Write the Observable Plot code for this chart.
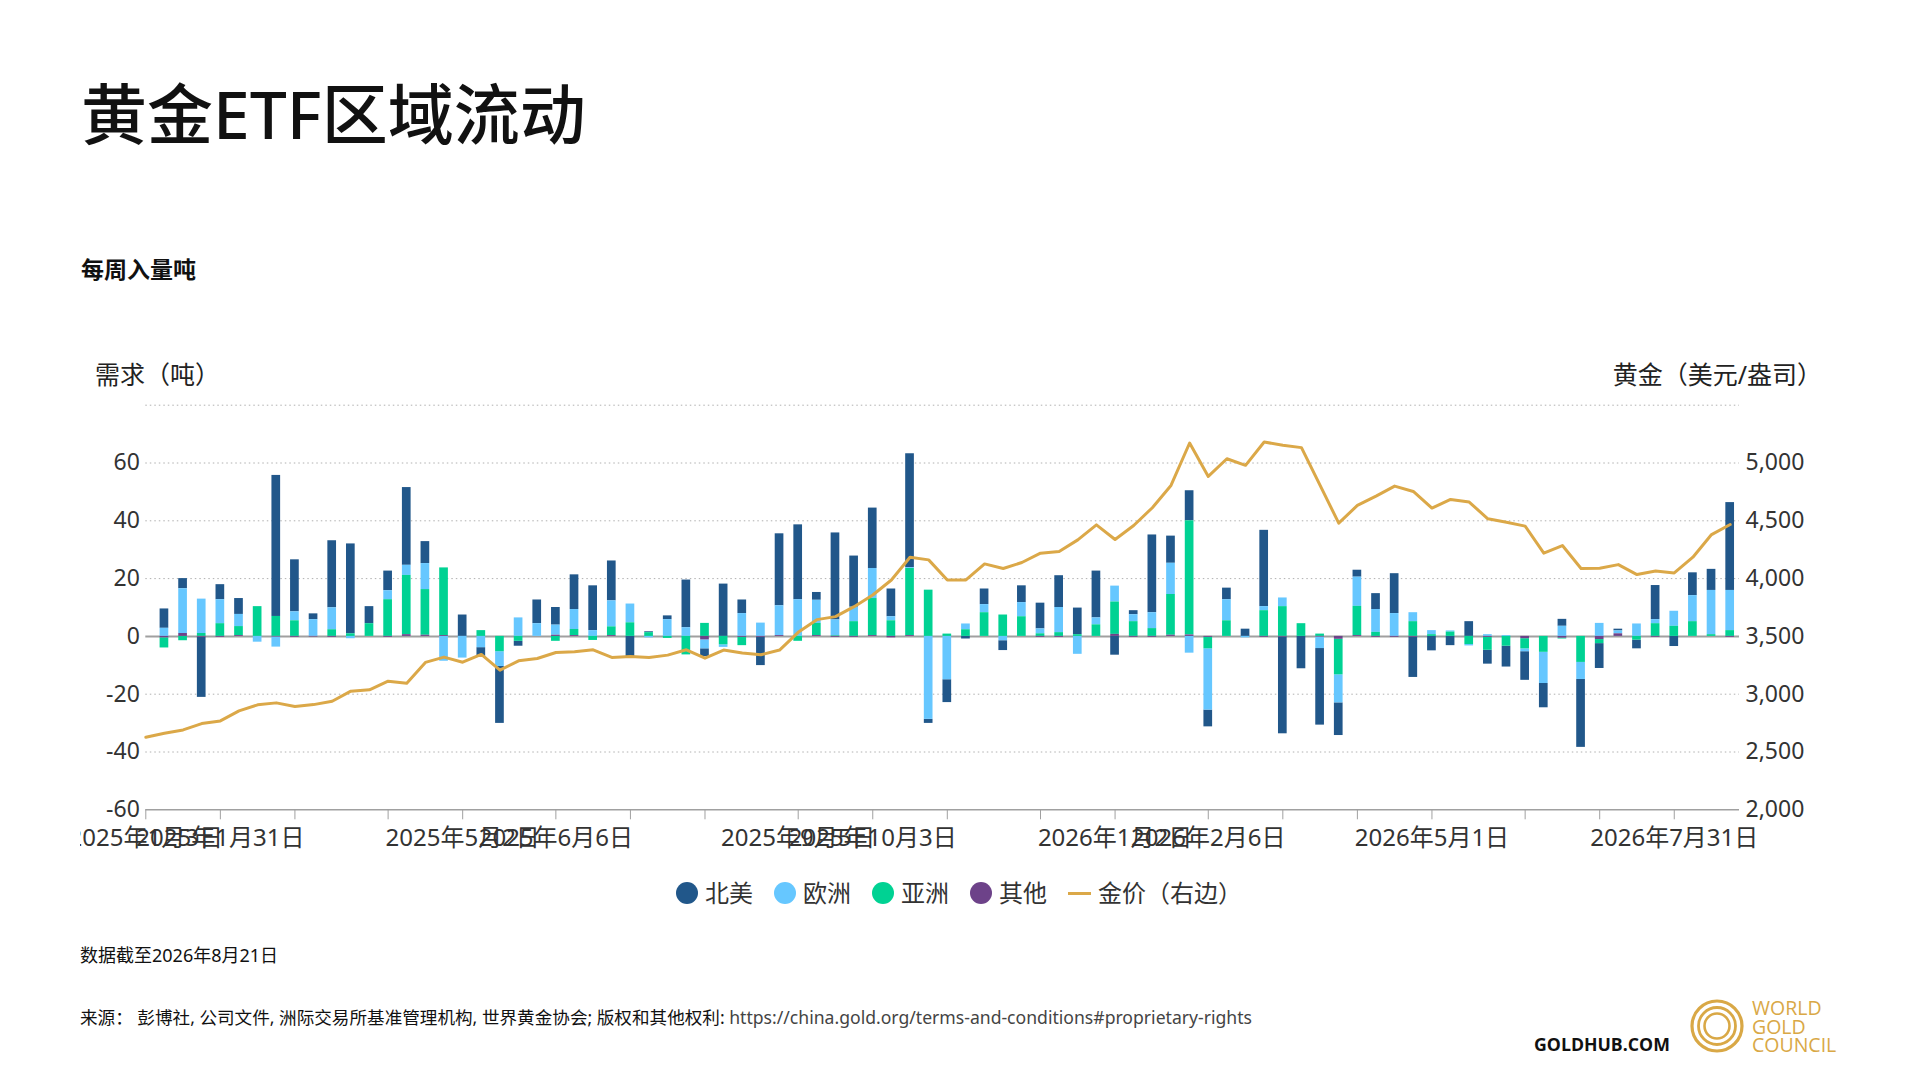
<!DOCTYPE html>
<html>
<head>
<meta charset="utf-8">
<script src="https://cdn.jsdelivr.net/npm/d3@7"></script>
<script src="https://cdn.jsdelivr.net/npm/@observablehq/plot@0.6"></script>
<style>
  body { margin: 0; background: #fff; }
  #page { position: relative; width: 1920px; height: 1080px; overflow: hidden; background: #fff;
          font-family: "Noto Sans", "Noto Sans CJK SC", sans-serif; color: #222; }
  .abs { position: absolute; white-space: nowrap; line-height: 1; }
  #legend { display: flex; align-items: center; font-size: 24px; color: #333; }
  #legend .item { display: flex; align-items: center; margin-right: 21px; }
  #legend .dot { width: 22px; height: 22px; border-radius: 50%; margin-right: 7px; }
  #legend .ln { width: 23px; height: 3px; margin-right: 7px; }
</style>
</head>
<body>
<div id="page">
  <div class="abs" style="left:81px;top:80px;font-size:66px;font-weight:500;color:#111">黄金ETF区域流动</div>
  <div class="abs" style="left:81px;top:258px;font-size:23px;font-weight:700;color:#111">每周入量吨</div>
  <div class="abs" style="left:95px;top:362px;font-size:25px;color:#222">需求（吨）</div>
  <div class="abs" style="right:98px;top:362px;font-size:25px;color:#222">黄金（美元/盎司）</div>
  <div id="chart" class="abs" style="left:80px;top:390px"></div>
  <div id="legend" class="abs" style="left:676px;top:881px;height:24px"></div>
  <div class="abs" style="left:80px;top:946px;font-size:18px;color:#111">数据截至2026年8月21日</div>
  <div class="abs" style="left:80px;top:1009px;font-size:17.6px;color:#111">来源： 彭博社, 公司文件, 洲际交易所基准管理机构, 世界黄金协会; 版权和其他权利: <span style="color:#444">https://china.gold.org/terms-and-conditions#proprietary-rights</span></div>
  <div class="abs" style="left:1534px;top:1036px;font-size:17.7px;font-weight:700;color:#111;font-family:'Open Sans','Noto Sans',sans-serif">GOLDHUB.COM</div>
  <svg class="abs" style="left:1680px;top:990px" width="240" height="80">
    <g fill="none" stroke="#d9a846">
      <circle cx="37" cy="36" r="25" stroke-width="3.2"/>
      <circle cx="37" cy="36" r="18.5" stroke-width="2.8"/>
      <circle cx="37" cy="36" r="12.5" stroke-width="2.6"/>
    </g>
    <g fill="#d9a846" font-family="'Open Sans','Noto Sans',sans-serif" font-size="19.5">
      <text x="72" y="25">WORLD</text>
      <text x="72" y="44">GOLD</text>
      <text x="72" y="62">COUNCIL</text>
    </g>
  </svg>
</div>
<script>
// weekly dates (Friday), Jan 2025 - Aug 2026
const weeks = [
  "2025-01-03","2025-01-10","2025-01-17","2025-01-24","2025-01-31","2025-02-07","2025-02-14","2025-02-21","2025-02-28",
  "2025-03-07","2025-03-14","2025-03-21","2025-03-28","2025-04-04","2025-04-11","2025-04-18","2025-04-25","2025-05-02",
  "2025-05-09","2025-05-16","2025-05-23","2025-05-30","2025-06-06","2025-06-13","2025-06-20","2025-06-27","2025-07-04",
  "2025-07-11","2025-07-18","2025-07-25","2025-08-01","2025-08-08","2025-08-15","2025-08-22","2025-08-29","2025-09-05",
  "2025-09-12","2025-09-19","2025-09-26","2025-10-03","2025-10-10","2025-10-17","2025-10-24","2025-10-31","2025-11-07",
  "2025-11-14","2025-11-21","2025-11-28","2025-12-05","2025-12-12","2025-12-19","2025-12-26","2026-01-02","2026-01-09",
  "2026-01-16","2026-01-23","2026-01-30","2026-02-06","2026-02-13","2026-02-20","2026-02-27","2026-03-06","2026-03-13",
  "2026-03-20","2026-03-27","2026-04-03","2026-04-10","2026-04-17","2026-04-24","2026-05-01","2026-05-08","2026-05-15",
  "2026-05-22","2026-05-29","2026-06-05","2026-06-12","2026-06-19","2026-06-26","2026-07-03","2026-07-10","2026-07-17",
  "2026-07-24","2026-07-31","2026-08-07","2026-08-14","2026-08-21"
];

// flows in tonnes, one value per week starting 2025-01-10
const northAmerica = [
  6.7, 3.5, -20.8, 5.2, 5.5, 0, 48.8, 18.0, 2.0, 23.2, 31.1, 5.9, 6.8, 26.9, 7.6, 0, 7.4,
  -3.0, -19.7, -1.7, 8.2, 6.1, 12.0, 15.5, 13.8, -7.5, 0.3, 1.3, 16.5, -2.7, 18.1, 4.7, -9.8, 24.9,
  25.9, 2.7, 30.1, 17.7, 20.9, 9.6, 39.4, -1.4, -7.9, -0.9, 5.4, -3.4, 5.8, 8.9, 11.0, 9.2, 16.2,
  -6.5, 1.4, 26.9, 9.4, 10.4, -5.8, 4.0, 2.5, 26.4, -33.5, -11.2, -26.5, -11.3, 2.4, 5.5, 13.8, -13.9,
  -5.0, -3.2, 5.1, -4.8, -7.2, -9.9, -8.4, 2.4, -23.5, -8.6, 0.6, -3.0, 11.8, -3.5, 7.9, 7.3, 30.4
];
const europe = [
  2.8, 15.5, 11.9, 8.3, 4.2, -2.0, -3.5, 3.1, 5.8, 7.6, -0.8, 0, 3.1, 3.5, 9.0, -8.6, -7.5,
  -3.9, -5.1, 6.4, 4.4, 3.5, 6.9, 2.0, 9.0, 6.5, -0.5, 5.8, 3.0, -3.1, -0.9, 7.9, 4.6, 10.3,
  12.7, 8.0, 5.5, 5.0, 10.4, 1.4, 0.3, -28.7, -15.0, 2.0, 2.8, -1.5, 4.9, 1.7, 8.7, -6.2, 2.4,
  5.5, 2.4, 5.5, 10.8, -5.8, -21.2, 7.3, -0.5, 1.4, 3.0, 0, -4.0, -9.7, 10.1, 7.9, 7.9, 3.1,
  1.4, 0.4, -0.5, 0.6, 0.3, -1.0, -10.8, 3.5, -5.9, 4.5, 1.0, 4.3, 1.4, 5.2, 9.0, 15.3, 13.9
];
const asia = [
  -3.5, -1.5, 1.0, 4.4, 3.1, 10.3, 6.9, 5.4, 0, 2.3, 0.9, 4.4, 12.7, 20.5, 15.8, 23.4, 0,
  2.0, -5.3, -1.7, 0, -1.7, 2.1, -1.4, 3.0, 4.7, 1.3, -0.7, -6.4, 4.5, -2.9, -2.9, 0, 0,
  -1.7, 4.2, 0.2, 5.1, 12.8, 5.4, 23.2, 16.0, 0.8, 2.3, 8.2, 7.4, 6.8, 0.9, 1.3, 0.6, 4.0,
  11.2, 5.1, 2.7, 14.1, 39.5, -4.0, 5.4, 0, 8.9, 10.3, 4.4, 0.8, -12.3, 10.1, 1.4, 0, 5.1,
  0.6, 1.5, -2.8, -4.5, -3.4, -3.5, -5.5, -0.3, -9.0, -1.4, 0, -1.3, 4.4, 3.5, 5.1, 0.6, 2.0
];
const other = [
  -0.5, 1.0, -0.3, -0.3, 0.3, 0, -0.2, -0.3, -0.2, -0.3, 0, 0, -0.3, 0.6, 0.4, 0.3, 0,
  0, 0, 0, 0, 0.4, 0.3, 0, 0.3, 0, 0, 0, 0, -1.2, 0, -0.3, -0.3, 0.3,
  0, 0.3, -0.3, -0.3, 0.3, -0.5, 0.3, 0, 0, 0, 0, 0, 0, -0.3, -0.3, 0, 0,
  0.7, -0.3, -0.3, 0.4, 0.5, -0.3, 0, 0, -0.3, -0.2, 0, -0.2, -1.0, 0.3, -0.3, -0.3, -0.3,
  0, 0, 0, -0.3, 0, -0.8, 0, -0.6, 0, -1.1, 0.9, 0, -0.3, 0, 0, 0, -0.3
];

// gold price, US$/oz, one value per week from 2025-01-03
const goldPrice = [
  2628, 2662, 2691, 2746, 2769, 2856, 2908, 2925, 2893, 2910, 2939, 3026, 3038, 3113, 3095, 3275, 3321, 3277,
  3344, 3208, 3289, 3309, 3361, 3367, 3384, 3318, 3327, 3318, 3338, 3384, 3312, 3382, 3356, 3341, 3382, 3535,
  3645, 3671, 3757, 3858, 3988, 4185, 4162, 3988, 3988, 4127, 4087, 4139, 4220, 4234, 4335, 4465, 4338, 4459,
  4613, 4806, 5173, 4884, 5037, 4980, 5182, 5153, 5133, 4806, 4480, 4633, 4714, 4800, 4754, 4610, 4685, 4662,
  4517, 4488, 4454, 4220, 4286, 4087, 4090, 4121, 4035, 4066, 4049, 4185, 4381, 4468
];

const regions = ["北美", "欧洲", "亚洲", "其他"];
const regionColors = ["#21578a", "#66c7ff", "#00d293", "#6d4289"];
const stackOrder = ["其他", "亚洲", "欧洲", "北美"];   // nearest zero first

const tickDates = ["2025-01-03","2025-01-31","2025-02-28","2025-04-04","2025-05-02","2025-06-06","2025-07-04",
  "2025-08-01","2025-09-05","2025-10-03","2025-10-31","2025-12-05","2026-01-02","2026-02-06","2026-03-06",
  "2026-04-03","2026-05-01","2026-06-05","2026-07-03","2026-07-31"];
const labelDates = ["2025-01-03","2025-01-31","2025-05-02","2025-06-06","2025-09-05","2025-10-03",
  "2026-01-02","2026-02-06","2026-05-01","2026-07-31"];

const yTicks = [-60, -40, -20, 0, 20, 40, 60];
const gridTicks = [-40, -20, 20, 40, 60, 80];

// right axis: gold = 3500 + 25 * tonnes
const toTonnes = p => (p - 3500) / 25;
const toPrice = t => 3500 + 25 * t;

// ---------- build rows ----------
const series = [northAmerica, europe, asia, other];
const bars = [];
series.forEach((vals, s) => {
  vals.forEach((v, k) => {
    if (v !== 0) bars.push({i: k + 1, week: weeks[k + 1], region: regions[s], value: v});
  });
});
const gold = goldPrice.map((p, i) => ({i, week: weeks[i], price: p}));

const parse = d3.utcParse("%Y-%m-%d");
const fmt = d3.utcFormat("%Y年%-m月%-d日");
const tickIdx = tickDates.map(d => weeks.indexOf(d));
const labelIdx = new Set(labelDates.map(d => weeks.indexOf(d)));

const half = 0.233;

const chart = Plot.plot({
  width: 1750, height: 470,
  marginLeft: 65.3, marginRight: 91, marginTop: 14.7, marginBottom: 50.7,
  style: {fontFamily: '"Noto Sans", "Noto Sans CJK SC", sans-serif', background: "white", color: "#333"},
  x: {domain: [0, 85.5]},
  y: {domain: [-60, 80]},
  color: {domain: regions, range: regionColors},
  marks: [
    Plot.ruleY(gridTicks, {stroke: "#b0b0b0", strokeDasharray: "1.5,3"}),
    Plot.ruleY([-60], {stroke: "#a0a0a0", strokeWidth: 1.5}),
    Plot.ruleY([0], {stroke: "#a0a0a0", strokeWidth: 2}),
    Plot.rectY(bars, Plot.stackY({
      x1: d => d.i - half, x2: d => d.i + half, y: "value",
      fill: "region", order: stackOrder
    })),
    Plot.line(gold, {x: "i", y: d => toTonnes(d.price), stroke: "#dba848", strokeWidth: 3}),
    Plot.axisX(tickIdx, {
      label: null, tickSize: 10, tickPadding: 9, fontSize: 24,
      stroke: "#a0a0a0", fill: "#333",
      tickFormat: i => labelIdx.has(i) ? fmt(parse(weeks[i])) : ""
    }),
    Plot.axisY(yTicks, {anchor: "left", label: null, tickSize: 0, tickPadding: 6, fontSize: 23, fill: "#333",
      tickFormat: t => String(t)}),
    Plot.axisY(yTicks, {anchor: "right", label: null, tickSize: 0, tickPadding: 6, fontSize: 23, fill: "#333",
      tickFormat: t => d3.format(",")(toPrice(t))})
  ]
});
document.getElementById("chart").appendChild(chart);

// ---------- legend ----------
const legend = document.getElementById("legend");
regions.forEach((r, k) => {
  const item = document.createElement("div");
  item.className = "item";
  item.innerHTML = `<span class="dot" style="background:${regionColors[k]}"></span><span>${r}</span>`;
  legend.appendChild(item);
});
const goldItem = document.createElement("div");
goldItem.className = "item";
goldItem.innerHTML = `<span class="ln" style="background:#dba848"></span><span>金价（右边）</span>`;
legend.appendChild(goldItem);
</script>
</body>
</html>
